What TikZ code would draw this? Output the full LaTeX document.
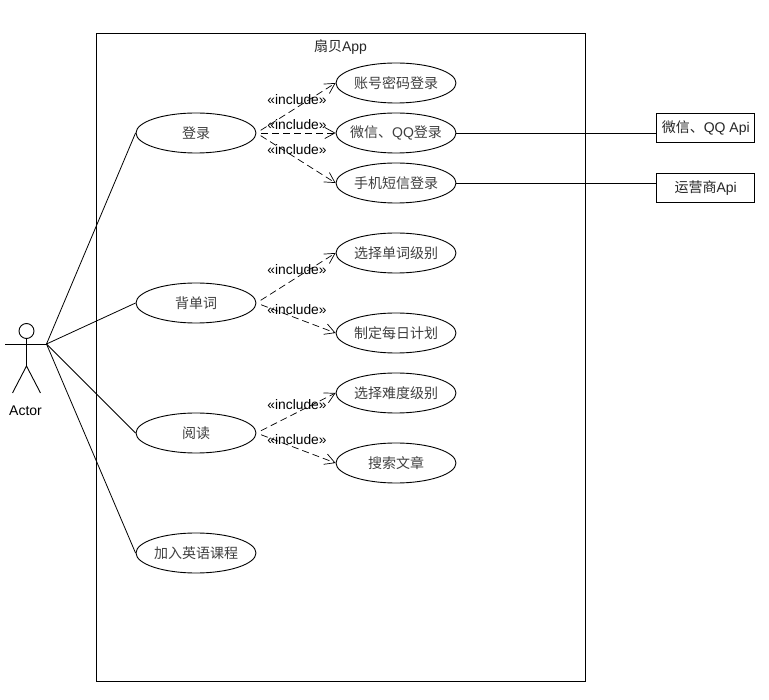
\documentclass[tikz,border=0pt]{standalone}
\usepackage{fontspec}
\setmainfont{Liberation Sans}
\newfontfamily\cjk{Noto Sans CJK SC}
\usetikzlibrary{shapes.geometric,arrows.meta}
\tikzset{
  usecase/.style={ellipse,draw=black,line width=0.9pt,fill=white,minimum width=120pt,minimum height=40pt,inner sep=0pt,font=\fontsize{14}{16}\selectfont,text=black!75},
  apibox/.style={rectangle,draw=black,line width=0.9pt,minimum width=98pt,minimum height=29pt,inner sep=0pt,font=\fontsize{14}{16}\selectfont,text=black!85},
  assoc/.style={draw=black,line width=0.8pt},
  incl/.style={draw=black,line width=0.7pt,dash pattern=on 7pt off 4pt,shorten <=5pt,-{Straight Barb[length=10pt,width=11pt,line width=0.7pt]}},
  incllabel/.style={font=\fontsize{13.8}{16}\selectfont,inner sep=0pt},
  stick/.style={draw=black,line width=0.9pt}
}
\begin{document}
\begin{tikzpicture}[x=1pt,y=-1pt]
\useasboundingbox (0,0) rectangle (769,700);
\fill[white] (0,0) rectangle (769,700);
\node[draw=black,line width=0.9pt,minimum width=488.5pt,minimum height=648pt,inner sep=0pt] (frame) at (340.8,357.8) {};
\node[font=\fontsize{14}{16}\selectfont,inner sep=0pt,text=black!85] (title) at (340.5,47) {{\cjk 扇贝}App};
% actor
\node[circle,draw=black,line width=0.9pt,minimum size=15pt,inner sep=0pt] (head) at (26.5,331) {};
\coordinate (crotch) at (26.5,366);
\coordinate (armL) at (5,344);
\coordinate (hand) at (46.5,344);
\coordinate (footL) at (12.5,393);
\coordinate (footR) at (40.5,393);
\draw[stick] (head.south) -- (crotch);
\draw[stick] (armL) -- (hand);
\draw[stick] (footL) -- (crotch) -- (footR);
\node[font=\fontsize{14}{16}\selectfont,inner sep=0pt] (actor) at (25.5,411) {Actor};
% use cases
\node[usecase] (login) at (196,133) {\cjk 登录};
\node[usecase] (words) at (196,303) {\cjk 背单词};
\node[usecase] (read) at (196,433) {\cjk 阅读};
\node[usecase] (course) at (196,553) {\cjk 加入英语课程};
\node[usecase] (pwd) at (396,83) {\cjk 账号密码登录};
\node[usecase] (wx) at (396,133) {\makebox[0pt][c]{{\cjk 微信、}QQ{\cjk 登录}}};
\node[usecase] (sms) at (396,183) {\cjk 手机短信登录};
\node[usecase] (level) at (396,253) {\cjk 选择单词级别};
\node[usecase] (plan) at (396,333) {\cjk 制定每日计划};
\node[usecase] (diff) at (396,393) {\cjk 选择难度级别};
\node[usecase] (search) at (396,463) {\cjk 搜索文章};
\node[apibox] (wxapi) at (705.7,128) {{\cjk 微信、}QQ Api};
\node[apibox] (smsapi) at (705.7,188) {{\cjk 运营商}Api};
% associations
\draw[assoc] (hand) -- (login.west);
\draw[assoc] (hand) -- (words.west);
\draw[assoc] (hand) -- (read.west);
\draw[assoc] (hand) -- (course.west);
\draw[assoc] (wx.east) -- (wx.east -| wxapi.west);
\draw[assoc] (sms.east) -- (sms.east -| smsapi.west);
% includes
\draw[incl] (login.east) -- (pwd.west);
\draw[incl] (login.east) -- (wx.west);
\draw[incl] (login.east) -- (sms.west);
\draw[incl] (words.east) -- (level.west);
\draw[incl] (words.east) -- (plan.west);
\draw[incl] (read.east) -- (diff.west);
\draw[incl] (read.east) -- (search.west);
\node[incllabel] (l1) at (297,99.5) {«include»};
\node[incllabel] (l2) at (297,124.5) {«include»};
\node[incllabel] (l3) at (297,149.5) {«include»};
\node[incllabel] (l4) at (297,269.5) {«include»};
\node[incllabel] (l5) at (297,309.5) {«include»};
\node[incllabel] (l6) at (297,404.5) {«include»};
\node[incllabel] (l7) at (297,439.5) {«include»};
\end{tikzpicture}
\end{document}
